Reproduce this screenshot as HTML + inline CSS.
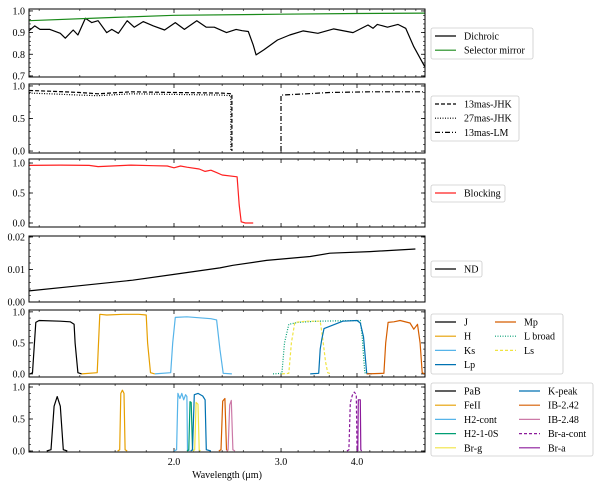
<!DOCTYPE html>
<html><head><meta charset="utf-8">
<style>
body{margin:0;background:#fff;}
svg{display:block;font-family:"Liberation Serif",serif;}
</style></head>
<body>
<svg id="chart" width="600" height="486" viewBox="0 0 600 486" xmlns="http://www.w3.org/2000/svg"></svg>
<script>
// ---- data (wavelength in micron, transmission) ----
const dichroicW = [1.155,1.18,1.204,1.25,1.30,1.325,1.365,1.39,1.43,1.465,1.50,1.55,1.58,1.62,1.675,1.72,1.78,1.85,1.93,2.01,2.08,2.18,2.26,2.33,2.44,2.53,2.59,2.65,2.70,2.73,2.81,2.96,3.10,3.26,3.45,3.66,3.94,4.17,4.25,4.32,4.49,4.67,4.81,4.96,5.17];
const dichroicT = [0.909,0.931,0.915,0.915,0.897,0.874,0.912,0.889,0.966,0.946,0.955,0.90,0.915,0.897,0.955,0.925,0.951,0.931,0.912,0.946,0.915,0.955,0.925,0.925,0.90,0.915,0.909,0.905,0.843,0.797,0.82,0.866,0.889,0.908,0.897,0.917,0.90,0.935,0.92,0.938,0.925,0.938,0.92,0.835,0.743];
const mirrorW = [1.155,1.6,2.0,3.0,4.0,5.17];
const mirrorT = [0.955,0.97,0.98,0.985,0.988,0.99];
const jhk13W = [1.155,1.25,1.4,1.5,1.7,2.0,2.4,2.49,2.49];
const jhk13T = [0.93,0.92,0.90,0.88,0.91,0.90,0.89,0.88,0.0];
const jhk27W = [1.155,1.25,1.4,1.5,1.7,2.0,2.4,2.48,2.48];
const jhk27T = [0.89,0.88,0.86,0.85,0.88,0.87,0.86,0.85,0.0];
const lm13W = [3.0,3.0,3.3,3.6,4.2,5.17];
const lm13T = [0.0,0.86,0.88,0.90,0.91,0.91];
const blockW = [1.155,1.3,1.45,1.5,1.7,1.85,1.95,2.0,2.05,2.1,2.2,2.25,2.3,2.35,2.4,2.54,2.56,2.58,2.62,2.7];
const blockT = [0.96,0.965,0.96,0.94,0.965,0.955,0.95,0.92,0.95,0.93,0.9,0.86,0.88,0.84,0.8,0.77,0.3,0.02,0.0,0.0];
const ndW = [1.155,1.4,1.71,2.0,2.38,2.50,2.84,3.35,3.61,4.2,4.99];
const ndT = [0.0034,0.005,0.0067,0.0085,0.0105,0.0113,0.0128,0.0140,0.0150,0.0155,0.0163];
// broadband filters
const jW=[1.16,1.17,1.185,1.2,1.3,1.35,1.37,1.375,1.39,1.41]; const jT=[0,0.02,0.83,0.86,0.85,0.84,0.80,0.5,0.02,0];
const hW=[1.41,1.495,1.51,1.55,1.65,1.75,1.80,1.81,1.83,1.86]; const hT=[0,0.02,0.96,0.95,0.96,0.96,0.95,0.5,0.02,0];
const ksW=[1.86,1.975,1.99,2.01,2.1,2.3,2.35,2.38,2.41,2.49]; const ksT=[0,0.02,0.5,0.91,0.92,0.89,0.87,0.4,0.01,0];
const lpW=[3.35,3.46,3.48,3.50,3.53,3.79,4.0,4.05,4.1,4.15,4.23]; const lpT=[0,0.01,0.4,0.55,0.73,0.85,0.86,0.82,0.6,0.01,0];
const mpW=[4.15,4.43,4.46,4.5,4.6,4.71,4.89,4.96,5.03,5.08,5.12,5.17]; const mpT=[0,0.01,0.5,0.83,0.84,0.86,0.82,0.72,0.8,0.5,0.02,0];
const lbW=[2.91,3.01,3.04,3.09,3.2,3.43,4.05,4.08,4.10,4.12,4.16]; const lbT=[0,0.01,0.5,0.80,0.83,0.85,0.86,0.6,0.3,0.02,0];
const lsW=[3.01,3.09,3.12,3.16,3.3,3.48,3.51,3.55,3.58,3.63]; const lsT=[0,0.01,0.5,0.83,0.85,0.85,0.6,0.2,0.02,0];
// narrowband filters
const pabW=[1.235,1.255,1.27,1.285,1.30,1.315,1.335]; const pabT=[0,0.02,0.7,0.85,0.7,0.02,0];
const feiiW=[1.615,1.628,1.635,1.645,1.655,1.662,1.675]; const feiiT=[0,0.02,0.9,0.95,0.9,0.02,0];
const h2cW=[2.0,2.02,2.03,2.045,2.06,2.075,2.09,2.10,2.105,2.12]; const h2cT=[0,0.02,0.9,0.82,0.9,0.8,0.88,0.85,0.02,0];
const h21W=[2.10,2.115,2.125,2.135,2.145,2.155]; const h21T=[0,0.02,0.77,0.76,0.02,0];
const brgW=[2.15,2.163,2.175,2.19,2.2,2.21]; const brgT=[0,0.02,0.76,0.73,0.02,0];
const kpW=[2.13,2.145,2.16,2.19,2.23,2.25,2.26,2.30]; const kpT=[0,0.02,0.88,0.9,0.86,0.8,0.02,0];
const ib242W=[2.37,2.39,2.405,2.425,2.44,2.455]; const ib242T=[0,0.02,0.78,0.82,0.02,0];
const ib248W=[2.44,2.455,2.47,2.485,2.5,2.52]; const ib248T=[0,0.02,0.72,0.79,0.02,0];
const bracW=[3.85,3.88,3.90,3.93,3.96,3.99,4.0,4.02]; const bracT=[0,0.02,0.75,0.87,0.92,0.88,0.02,0];
const braW=[4.0,4.012,4.02,4.05,4.058,4.07]; const braT=[0,0.02,0.8,0.8,0.02,0];
const xTickVals=[2,3,4]; const xTickLabels=['2.0','3.0','4.0'];

// ---- layout ----
const svg=document.getElementById('chart');
const NS='http://www.w3.org/2000/svg';
const XL=29, XR=425;
function X(w){return 174+264*Math.log(w/2);}
function el(tag,attrs,parent){const e=document.createElementNS(NS,tag);for(const k in attrs)e.setAttribute(k,attrs[k]);(parent||svg).appendChild(e);return e;}
const panels=[
 {name:'dichroic-panel',top:9,bot:77,y0:0.695,y1:1.009,ticks:[0.7,0.8,0.9,1.0],labels:['0.7','0.8','0.9','1.0'],minor:0.02},
 {name:'mask-panel',top:84,bot:153,y0:-0.03,y1:1.03,ticks:[0,0.5,1],labels:['0.0','0.5','1.0'],minor:0.1},
 {name:'blocking-panel',top:159,bot:227,y0:-0.067,y1:1.067,ticks:[0,0.5,1],labels:['0.0','0.5','1.0'],minor:0.1},
 {name:'nd-panel',top:236,bot:302,y0:0,y1:0.0203,ticks:[0,0.01,0.02],labels:['0.00','0.01','0.02'],minor:0.002},
 {name:'broadband-panel',top:310,bot:377,y0:-0.05,y1:1.03,ticks:[0,0.5,1],labels:['0.0','0.5','1.0'],minor:0.1},
 {name:'narrowband-panel',top:384,bot:452,y0:-0.016,y1:1.047,ticks:[0,0.5,1],labels:['0.0','0.5','1.0'],minor:0.1}
];
function Yf(p){return v=>p.bot-(v-p.y0)/(p.y1-p.y0)*(p.bot-p.top);}
function line(p,ws,ts,color,dash,name){
 const Y=Yf(p);
 const d=ws.map((w,i)=>(i?'L':'M')+X(w).toFixed(1)+','+Y(ts[i]).toFixed(1)).join('');
 const a={d:d,fill:'none',stroke:color,'stroke-width':1.2,'stroke-linejoin':'round'};
 if(dash)a['stroke-dasharray']=dash;
 const e=el('path',a);
 
 
}
panels.forEach((p,pi)=>{
 const Y=Yf(p);
 const g=el('g',{});
 
 
 // minor y ticks
 for(let v=Math.ceil(p.y0/p.minor)*p.minor;v<=p.y1+1e-9;v+=p.minor){
  const y=Y(v);
  el('line',{x1:XL,x2:XL+2,y1:y,y2:y,stroke:'#000','stroke-width':0.6},g);
  el('line',{x1:XR,x2:XR-2,y1:y,y2:y,stroke:'#000','stroke-width':0.6},g);
 }
 p.ticks.forEach((v,i)=>{
  const y=Y(v);
  el('line',{x1:XL,x2:XL+4,y1:y,y2:y,stroke:'#000','stroke-width':0.8},g);
  el('line',{x1:XR,x2:XR-4,y1:y,y2:y,stroke:'#000','stroke-width':0.8},g);
  const t=el('text',{x:25,y:y+3.5,'text-anchor':'end','font-size':10,fill:'#000'},g);
  t.textContent=p.labels[i];
  
  
 });
 for(let w=1.2;w<5.17;w+=0.2){
  const x=X(w);
  const maj=xTickVals.some(v=>Math.abs(v-w)<0.01);
  const L=maj?4:2;
  el('line',{x1:x,x2:x,y1:p.bot,y2:p.bot-L,stroke:'#000','stroke-width':maj?0.8:0.6},g);
  el('line',{x1:x,x2:x,y1:p.top,y2:p.top+L,stroke:'#000','stroke-width':maj?0.8:0.6},g);
 }
});
const P=panels;
line(P[0],dichroicW,dichroicT,'#000',null,'dichroic-line');
line(P[0],mirrorW,mirrorT,'#1a8a1a',null,'selector-mirror-line');
line(P[1],jhk13W,jhk13T,'#000','4,2','mask-13mas-jhk-line');
line(P[1],jhk27W,jhk27T,'#000','1,1.5','mask-27mas-jhk-line');
line(P[1],lm13W,lm13T,'#000','5,2,1,2','mask-13mas-lm-line');
line(P[2],blockW,blockT,'#ff2020',null,'blocking-line');
line(P[3],ndW,ndT,'#000',null,'nd-line');
line(P[4],jW,jT,'#000',null,'filter-j-line');
line(P[4],hW,hT,'#E69F00',null,'filter-h-line');
line(P[4],ksW,ksT,'#56B4E9',null,'filter-ks-line');
line(P[4],lbW,lbT,'#009E73','1,1.5','filter-l-broad-line');
line(P[4],lsW,lsT,'#F0E442','3,2','filter-ls-line');
line(P[4],lpW,lpT,'#0072B2',null,'filter-lp-line');
line(P[4],mpW,mpT,'#D55E00',null,'filter-mp-line');
line(P[5],pabW,pabT,'#000',null,'filter-pab-line');
line(P[5],feiiW,feiiT,'#E69F00',null,'filter-feii-line');
line(P[5],h2cW,h2cT,'#56B4E9',null,'filter-h2-cont-line');
line(P[5],h21W,h21T,'#009E73',null,'filter-h2-1-0s-line');
line(P[5],kpW,kpT,'#0072B2',null,'filter-k-peak-line');
line(P[5],brgW,brgT,'#F0E442',null,'filter-br-g-line');
line(P[5],ib242W,ib242T,'#D55E00',null,'filter-ib-2-42-line');
line(P[5],ib248W,ib248T,'#CC79A7',null,'filter-ib-2-48-line');
line(P[5],bracW,bracT,'#8B1A9B','3,2','filter-br-a-cont-line');
line(P[5],braW,braT,'#8B1A9B',null,'filter-br-a-line');
// frames on top
panels.forEach(p=>{
 const r=el('rect',{x:XL,y:p.top,width:XR-XL,height:p.bot-p.top,fill:'none',stroke:'#000','stroke-width':1});
 
 
});
xTickVals.forEach((v,i)=>{
 const t=el('text',{x:X(v),y:465,'text-anchor':'middle','font-size':10,fill:'#000'});
 t.textContent=xTickLabels[i];
 
 
});
const xt=el('text',{x:227,y:478,'text-anchor':'middle','font-size':10,fill:'#000'});
xt.textContent='Wavelength (μm)';


// legends
function legend(name,x,y,w,h,cols){
 const g=el('g',{});
 
 
 el('rect',{x:x,y:y,width:w,height:h,rx:2,fill:'#fff',stroke:'#ccc','stroke-width':0.8},g);
 cols.forEach(c=>{
  c.items.forEach((it,i)=>{
   const yy=y+8+i*14.2;
   const a={x1:c.x,x2:c.x+21,y1:yy,y2:yy,stroke:it[1],'stroke-width':1.2};
   if(it[2])a['stroke-dasharray']=it[2];
   el('line',a,g);
   const t=el('text',{x:c.x+29,y:yy+3.5,'font-size':10,fill:'#000'},g);
   t.textContent=it[0];
   
   
  });
 });
}
legend('legend-dichroic',431,28,102,31,[{x:435,items:[['Dichroic','#000'],['Selector mirror','#1a8a1a']]}]);
legend('legend-masks',431,96,88,45,[{x:435,items:[['13mas-JHK','#000','4,2'],['27mas-JHK','#000','1,1.5'],['13mas-LM','#000','5,2,1,2']]}]);
legend('legend-blocking',431,185,74,17,[{x:435,items:[['Blocking','#ff2020']]}]);
legend('legend-nd',431,261,51,16,[{x:435,items:[['ND','#000']]}]);
legend('legend-broadband',431,314,132,60,[{x:435,items:[['J','#000'],['H','#E69F00'],['Ks','#56B4E9'],['Lp','#0072B2']]},{x:495,items:[['Mp','#D55E00'],['L broad','#009E73','1,1.5'],['Ls','#F0E442','3,2']]}]);
legend('legend-narrowband',431,383,162,73,[{x:435,items:[['PaB','#000'],['FeII','#E69F00'],['H2-cont','#56B4E9'],['H2-1-0S','#009E73'],['Br-g','#F0E442']]},{x:519,items:[['K-peak','#0072B2'],['IB-2.42','#D55E00'],['IB-2.48','#CC79A7'],['Br-a-cont','#8B1A9B','3,2'],['Br-a','#8B1A9B']]}]);
</script>
</body></html>
